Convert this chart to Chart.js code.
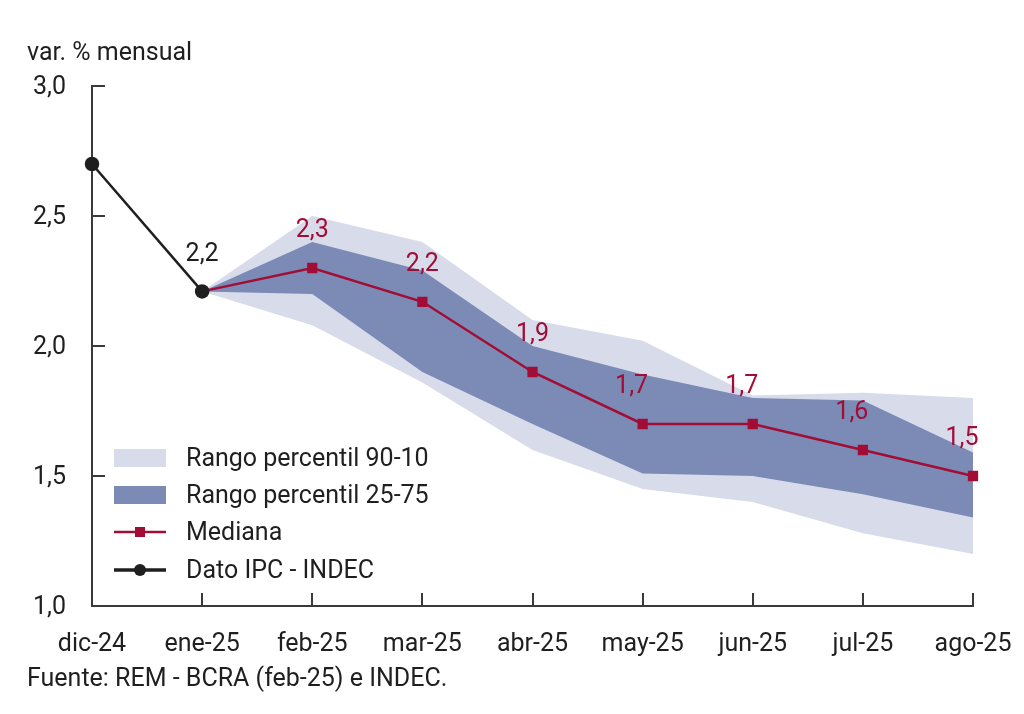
<!DOCTYPE html>
<html>
<head>
<meta charset="utf-8">
<script src="https://cdn.jsdelivr.net/npm/chart.js@4.4.1/dist/chart.umd.min.js"></script>
<style>
  html, body { margin: 0; padding: 0; background: #ffffff; }
  #wrap { width: 1024px; height: 714px; position: relative; }
</style>
</head>
<body>
<div id="wrap"><canvas id="c"></canvas></div>
<script>
const categories = ['dic-24','ene-25','feb-25','mar-25','abr-25','may-25','jun-25','jul-25','ago-25'];
const ipc      = [2.70, 2.21, null, null, null, null, null, null, null];
const mediana  = [null, 2.21, 2.30, 2.17, 1.90, 1.70, 1.70, 1.60, 1.50];
const p75      = [null, 2.21, 2.40, 2.29, 2.00, 1.89, 1.80, 1.79, 1.59];
const p25      = [null, 2.21, 2.20, 1.90, 1.70, 1.51, 1.50, 1.43, 1.34];
const p90      = [null, 2.21, 2.50, 2.40, 2.10, 2.02, 1.81, 1.82, 1.80];
const p10      = [null, 2.21, 2.08, 1.86, 1.60, 1.45, 1.40, 1.28, 1.20];
const ipcLabels     = ['', '2,2', '', '', '', '', '', '', ''];
const medianaLabels = ['', '', '2,3', '2,2', '1,9', '1,7', '1,7', '1,6', '1,5'];
const yTickLabels   = ['1,0', '1,5', '2,0', '2,5', '3,0'];
const legendLabels  = ['Rango percentil 90-10', 'Rango percentil 25-75', 'Mediana', 'Dato IPC - INDEC'];

const LIGHT = '#d7dbea';
const DARK = '#7b8bb6';
const RED = '#a20d35';
const BLACK = '#1f1f1f';
const AXIS = '#3a3a3a';
const FONT = 'Roboto';
const FS = 25;

const overlay = {
  id: 'overlay',
  afterDraw(chart) {
    const ctx = chart.ctx;
    const xs = chart.scales.x, ys = chart.scales.y;
    const area = chart.chartArea;
    ctx.save();
    // inward ticks
    ctx.strokeStyle = AXIS;
    ctx.lineWidth = 2;
    ys.ticks.forEach((t, i) => {
      const y = Math.round(ys.getPixelForTick(i));
      ctx.beginPath(); ctx.moveTo(area.left, y); ctx.lineTo(area.left + 13, y); ctx.stroke();
    });
    categories.forEach((c, i) => {
      const x = Math.round(xs.getPixelForValue(i));
      ctx.beginPath(); ctx.moveTo(x, area.bottom); ctx.lineTo(x, area.bottom - 13); ctx.stroke();
    });
    // data labels
    ctx.font = FS + 'px ' + FONT;
    ctx.textAlign = 'center';
    ctx.textBaseline = 'middle';
    ctx.fillStyle = BLACK;
    ipcLabels.forEach((l, i) => {
      if (!l) return;
      ctx.fillText(l, xs.getPixelForValue(i), ys.getPixelForValue(ipc[i]) - 37);
    });
    ctx.fillStyle = RED;
    medianaLabels.forEach((l, i) => {
      if (!l) return;
      const dx = i >= 5 ? -11 : 0;
      ctx.fillText(l, xs.getPixelForValue(i) + dx, ys.getPixelForValue(mediana[i]) - 37);
    });
    // axis title and source
    ctx.fillStyle = BLACK;
    ctx.textAlign = 'left';
    ctx.textBaseline = 'alphabetic';
    ctx.fillText('var. % mensual', 27, 60);
    ctx.fillText('Fuente: REM - BCRA (feb-25) e INDEC.', 27, 686);
    // legend
    const lx = 114, lw = 52, tx = 186;
    const rows = [458, 495, 532, 570];
    ctx.fillStyle = LIGHT; ctx.fillRect(lx, rows[0] - 9, lw, 18);
    ctx.fillStyle = DARK; ctx.fillRect(lx, rows[1] - 9, lw, 18);
    ctx.strokeStyle = RED; ctx.lineWidth = 2.5;
    ctx.beginPath(); ctx.moveTo(lx, rows[2]); ctx.lineTo(lx + lw, rows[2]); ctx.stroke();
    ctx.fillStyle = RED; ctx.fillRect(lx + lw / 2 - 5, rows[2] - 5, 10, 10);
    ctx.strokeStyle = BLACK; ctx.lineWidth = 3.5;
    ctx.beginPath(); ctx.moveTo(lx, rows[3]); ctx.lineTo(lx + lw, rows[3]); ctx.stroke();
    ctx.fillStyle = BLACK; ctx.beginPath(); ctx.arc(lx + lw / 2, rows[3], 6, 0, Math.PI * 2); ctx.fill();
    ctx.fillStyle = BLACK;
    ctx.textBaseline = 'middle';
    legendLabels.forEach((l, i) => ctx.fillText(l, tx, rows[i] + 2));
    ctx.restore();
  }
};

new Chart(document.getElementById('c'), {
  type: 'line',
  data: {
    labels: categories,
    datasets: [
      { label: 'p90', data: p90, fill: '+1', backgroundColor: LIGHT, borderWidth: 0, pointRadius: 0, order: 6 },
      { label: 'p10', data: p10, fill: false, borderWidth: 0, pointRadius: 0, order: 5 },
      { label: 'p75', data: p75, fill: '+1', backgroundColor: DARK, borderWidth: 0, pointRadius: 0, order: 4 },
      { label: 'p25', data: p25, fill: false, borderWidth: 0, pointRadius: 0, order: 3 },
      { label: 'Mediana', data: mediana, borderColor: RED, backgroundColor: RED, borderWidth: 2.5,
        pointStyle: 'rect', pointRadius: 5.5, pointHoverRadius: 5.5, fill: false, order: 2 },
      { label: 'Dato IPC - INDEC', data: ipc, borderColor: BLACK, backgroundColor: BLACK, borderWidth: 2.5,
        pointStyle: 'circle', pointRadius: 6, pointHoverRadius: 6, fill: false, order: 1 }
    ]
  },
  options: {
    responsive: true,
    maintainAspectRatio: false,
    animation: false,
    events: [],
    layout: { padding: { top: 86, right: 51, left: 0, bottom: 0 } },
    plugins: { legend: { display: false }, tooltip: { enabled: false } },
    scales: {
      x: {
        offset: false,
        grid: { display: false, drawTicks: false },
        border: { display: true, color: AXIS, width: 2 },
        ticks: { color: BLACK, font: { family: FONT, size: FS }, padding: 24, maxRotation: 0, autoSkip: false },
        afterFit(s) { s.height = 108; s.paddingLeft = 0; s.paddingRight = 0; }
      },
      y: {
        min: 1, max: 3,
        grid: { display: false, drawTicks: false },
        border: { display: true, color: AXIS, width: 2 },
        ticks: { stepSize: 0.5, color: BLACK, font: { family: FONT, size: FS }, padding: 26, labelOffset: 2,
          callback: (v, i) => yTickLabels[i] },
        afterFit(s) { s.width = 92; s.paddingTop = 0; s.paddingBottom = 0; }
      }
    }
  },
  plugins: [overlay]
});
</script>
</body>
</html>
